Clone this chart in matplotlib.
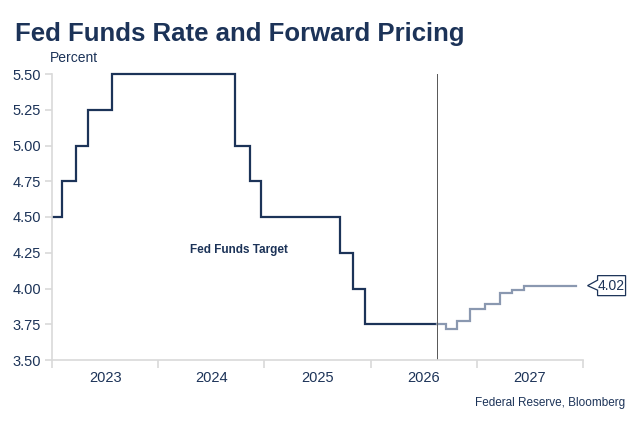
import matplotlib
matplotlib.use("Agg")
import matplotlib.pyplot as plt
import matplotlib.transforms as mtransforms
from matplotlib.patches import Polygon

plt.rcParams['font.family'] = ['Liberation Sans', 'DejaVu Sans']

# fed funds target (upper bound), step dates as fractional years
target_x = [2023.01, 2023.092, 2023.224, 2023.342, 2023.569, 2024.72, 2024.861,
            2024.969, 2025.714, 2025.83, 2025.946, 2026.623]
target_y = [4.50, 4.75, 5.00, 5.25, 5.50, 5.00, 4.75, 4.50, 4.25, 4.00, 3.75, 3.75]

# forward pricing
fwd_x = [2026.623, 2026.71, 2026.818, 2026.94, 2027.075, 2027.217, 2027.327,
         2027.443, 2027.93]
fwd_y = [3.75, 3.72, 3.77, 3.86, 3.89, 3.97, 3.99, 4.02, 4.02]

today = 2026.623
years = [2023, 2024, 2025, 2026, 2027]
yticks = [3.50, 3.75, 4.00, 4.25, 4.50, 4.75, 5.00, 5.25, 5.50]

navy = '#1c3358'
grey_blue = '#8a98b0'
axis_grey = '#d9d9d9'

fig = plt.figure(figsize=(6.43, 4.28), dpi=100)
ax = fig.add_axes([52 / 643, 1 - 360 / 428, (583 - 52) / 643, (360 - 74) / 428])

ax.plot(target_x, target_y, drawstyle='steps-post', color=navy, lw=1.6,
        solid_joinstyle='miter', clip_on=False)
ax.plot(fwd_x, fwd_y, drawstyle='steps-post', color=grey_blue, lw=1.6,
        solid_joinstyle='miter', clip_on=False)
ax.axvline(today, color='#555555', lw=0.7)

ax.set_xlim(2023, 2028)
ax.set_ylim(3.5, 5.5)

for s in ['top', 'right']:
    ax.spines[s].set_visible(False)
for s in ['left', 'bottom']:
    ax.spines[s].set_color(axis_grey)
    ax.spines[s].set_linewidth(1.2)

ax.set_yticks(yticks)
ax.set_yticklabels([f'{v:.2f}' for v in yticks])
ax.set_xticks(years + [2028])
ax.set_xticklabels([])
ax.set_xticks([y + 0.5 for y in years], minor=True)
ax.set_xticklabels([str(y) for y in years], minor=True)
ax.tick_params(axis='y', colors=axis_grey, labelcolor=navy, labelsize=10.5,
               length=5, width=1.2, pad=3)
ax.tick_params(axis='x', which='major', colors=axis_grey, length=6, width=1.2)
ax.tick_params(axis='x', which='minor', length=0, labelcolor=navy,
               labelsize=10.5, pad=8)

fig.text(15 / 643, 1 - 41 / 428, 'Fed Funds Rate and Forward Pricing',
         fontsize=18.5, fontweight='bold', color=navy)
fig.text(50 / 643, 1 - 62 / 428, 'Percent', fontsize=10, color=navy)
ax.text(2024.76, 4.27, 'Fed Funds Target', fontsize=8.5, fontweight='bold',
        color=navy, ha='center', va='center')
fig.text(625 / 643, 1 - 406 / 428, 'Federal Reserve, Bloomberg', fontsize=8.5,
         color=navy, ha='right')

# callout label at the end of the forward curve
trans = fig.dpi_scale_trans + mtransforms.ScaledTranslation(
    fwd_x[-1], fwd_y[-1], ax.transData)
tip = 0.12
verts = [(tip, 0), (tip + 0.10, 0.055), (tip + 0.10, 0.10), (tip + 0.38, 0.10),
         (tip + 0.38, -0.10), (tip + 0.10, -0.10), (tip + 0.10, -0.045)]
ax.add_patch(Polygon(verts, closed=True, transform=trans, facecolor='white',
                     edgecolor=navy, lw=0.9, clip_on=False))
ax.text(tip + 0.24, 0, f'{fwd_y[-1]:.2f}', transform=trans, ha='center',
        va='center', fontsize=10, color=navy)

fig.savefig('out.png', dpi=100)
